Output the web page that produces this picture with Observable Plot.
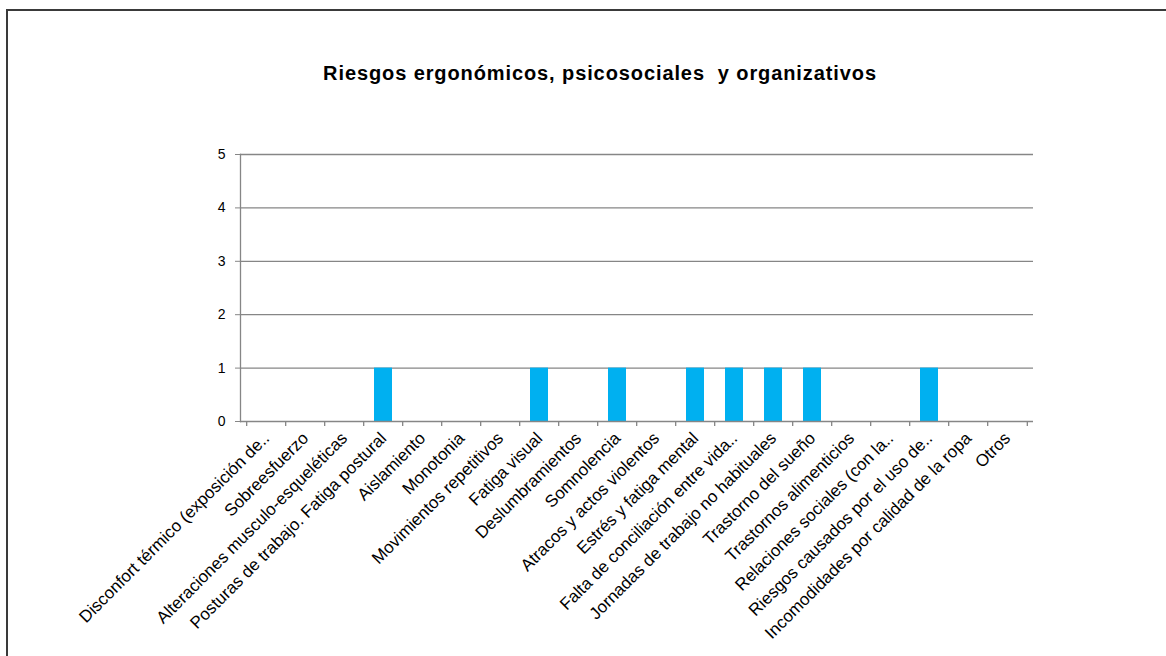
<!DOCTYPE html>
<html><head><meta charset="utf-8">
<script src="https://cdn.jsdelivr.net/npm/d3@7"></script>
<script src="https://cdn.jsdelivr.net/npm/@observablehq/plot@0.6"></script>
<style>
body{margin:0;background:#fff;font-family:"Liberation Sans",Arial,sans-serif;}
#wrap{position:relative;width:1166px;height:656px;overflow:hidden;}
#frame{position:absolute;left:6px;top:9px;width:1300px;height:800px;border:2px solid #3a3a3a;box-sizing:border-box;}
#title{position:absolute;left:0;width:1200px;top:62px;text-align:center;font-weight:bold;font-size:20px;letter-spacing:0.9px;white-space:pre;color:#000;}
#chart{position:absolute;left:0;top:0;}
</style></head>
<body><div id="wrap"><div id="frame"></div><div id="title">Riesgos ergonómicos, psicosociales  y organizativos</div><div id="chart"></div></div>
<script>
const categories = [
  "Disconfort térmico (exposición de..",
  "Sobreesfuerzo",
  "Alteraciones musculo-esqueléticas",
  "Posturas de trabajo. Fatiga postural",
  "Aislamiento",
  "Monotonia",
  "Movimientos repetitivos",
  "Fatiga visual",
  "Deslumbramientos",
  "Somnolencia",
  "Atracos y actos violentos",
  "Estrés y fatiga mental",
  "Falta de conciliación entre vida..",
  "Jornadas de trabajo no habituales",
  "Trastorno del sueño",
  "Trastornos alimenticios",
  "Relaciones sociales (con la..",
  "Riesgos causados por el uso de..",
  "Incomodidades por calidad de la ropa",
  "Otros"
];
const values = [0,0,0,1,0,0,0,1,0,1,0,1,1,1,1,0,0,1,0,0];
const yTicks = [0,1,2,3,4,5];

const data = categories.map((c,i)=>({cat:c, v:values[i]}));
const W = 1166, H = 656;
const mL = 240, mR = 133, mT = 154, mB = 235;
const bw = (W - mL - mR) / categories.length;
const grey = "#868686";

const chart = Plot.plot({
  width: W, height: H,
  marginLeft: mL, marginRight: mR, marginTop: mT, marginBottom: mB,
  style: {fontFamily: "'Liberation Sans', Arial, sans-serif", fontSize: "14px", color: "#000", background: "transparent"},
  x: {domain: categories, paddingInner: 0.53, paddingOuter: 0.265, label: null},
  y: {domain: [0,5], label: null},
  marks: [
    Plot.ruleY(yTicks.filter(d=>d>0), {stroke: grey, strokeWidth: 1.3}),
    Plot.barY(data, {x: "cat", y: "v", fill: "#00B0F0"}),
    Plot.frame({anchor: "left", stroke: grey, strokeWidth: 1.3}),
    Plot.ruleY([0], {stroke: grey, strokeWidth: 1.3}),
    Plot.ruleX(categories, {x: d=>d, y1: 0, y2: -0.095, dx: -bw/2, stroke: grey, strokeWidth: 1.3}),
    Plot.ruleX(categories.slice(-1), {x: d=>d, y1: 0, y2: -0.095, dx: bw/2, stroke: grey, strokeWidth: 1.3}),
    Plot.axisY({ticks: yTicks, tickSize: 5, tickPadding: 10, stroke: grey, tickFormat: d=>d, fontSize: 14}),
    Plot.axisX({tickSize: 0, tickRotate: -45, tickPadding: 14, fontSize: 17})
  ]
});
document.getElementById("chart").appendChild(chart);
</script>
</body></html>
